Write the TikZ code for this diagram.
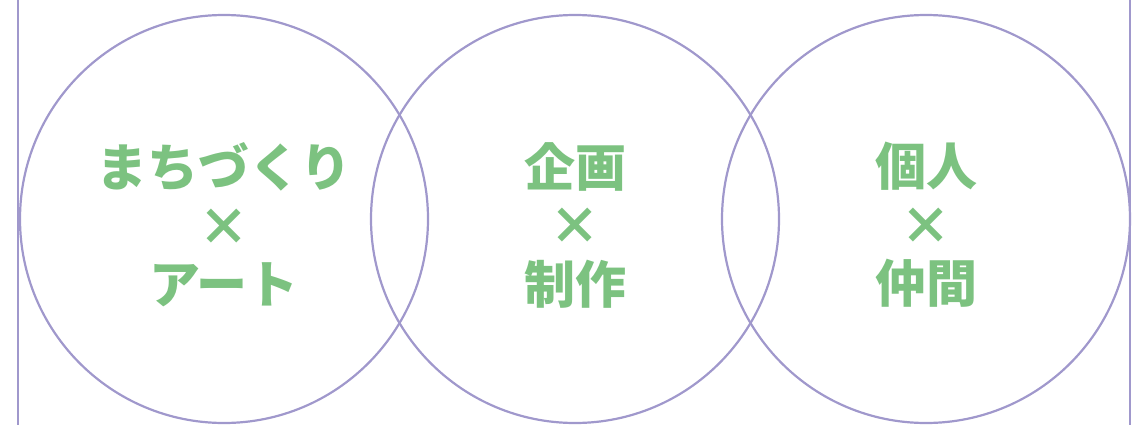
\documentclass[tikz,border=0pt]{standalone}
\usepackage{fontspec}
\newfontfamily\jp{Noto Sans CJK JP}
\usetikzlibrary{positioning}
\definecolor{ringpurple}{RGB}{160,152,204}
\definecolor{leafgreen}{RGB}{124,194,128}
\tikzset{
        x=1pt, y=1pt, % one unit per pixel of the reference
        ring/.style={circle, draw=ringpurple, line width=2.2pt, minimum size=408pt, inner sep=0pt}, % the three big circles
        ringtext/.style={text=leafgreen, align=center, font=\jp\bfseries\fontsize{51}{58.5}\selectfont}, % green captions
        frameline/.style={draw=ringpurple, line width=2.2pt},
    }
\begin{document}
\begin{tikzpicture}[node distance=351pt]
    \useasboundingbox (0,0) rectangle (1134,424);
    \draw[frameline] (18,-5) -- (18,430);
    \draw[frameline] (1130,-5) -- (1130,430);
    \node[ring] (machi) at (224,205) {};
    \node[ring, right of=machi] (kikaku) {};
    \node[ring, right of=kikaku] (kojin) {};
    \node[ringtext] (machitext) at ([yshift=-6pt]machi.center) {まちづくり\\×\\アート};
    \node[ringtext] (kikakutext) at ([yshift=-6pt]kikaku.center) {企画\\×\\制作};
    \node[ringtext] (kojintext) at ([yshift=-6pt]kojin.center) {個人\\×\\仲間};
  \end{tikzpicture}
\end{document}
